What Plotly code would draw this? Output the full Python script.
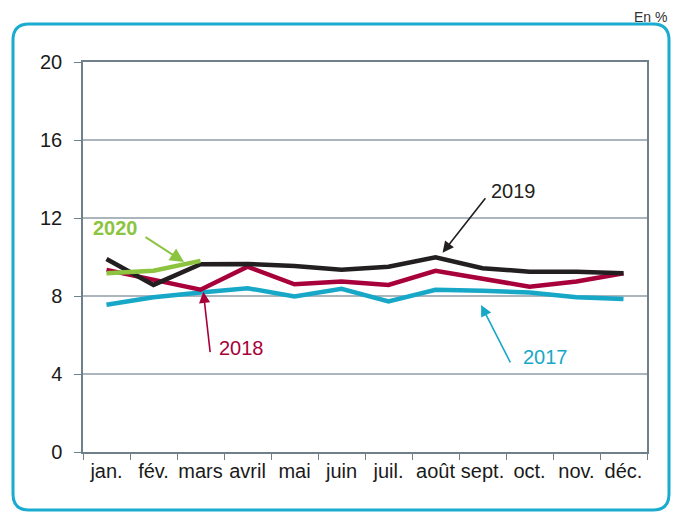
import plotly.graph_objects as go

months = ["jan.", "fév.", "mars", "avril", "mai", "juin", "juil.", "août", "sept.", "oct.", "nov.", "déc."]
y2017 = [7.55, 7.94, 8.18, 8.40, 7.98, 8.37, 7.72, 8.32, 8.27, 8.18, 7.94, 7.84]
y2018 = [9.34, 8.83, 8.32, 9.50, 8.60, 8.74, 8.57, 9.29, 8.91, 8.48, 8.74, 9.17]
y2019 = [9.90, 8.57, 9.63, 9.64, 9.54, 9.35, 9.50, 9.98, 9.42, 9.25, 9.25, 9.17]
y2020 = [9.17, 9.30, 9.80]
yticks = [0, 4, 8, 12, 16, 20]

c17 = "#17a8c8"
c18 = "#a8003a"
c19 = "#231f20"
c20 = "#8cc43f"
frame = "#19acd0"
axis_grey = "#6f808b"
grid_grey = "#aab5bd"

fig = go.Figure()
fig.add_trace(go.Scatter(x=months, y=y2017, mode="lines", line=dict(color=c17, width=4.5)))
fig.add_trace(go.Scatter(x=months, y=y2018, mode="lines", line=dict(color=c18, width=4.5)))
fig.add_trace(go.Scatter(x=months, y=y2019, mode="lines", line=dict(color=c19, width=4.5)))
fig.add_trace(go.Scatter(x=months[:3], y=y2020, mode="lines", line=dict(color=c20, width=4.5)))

font = "Liberation Sans, Arial, sans-serif"
OFF = 8  # page body margin
W, H = 683 - OFF, 513 - OFF
ml, mr, mt, mb = 83 - OFF, 36, 62 - OFF, 61
pw, ph = W - ml - mr, H - mt - mb

def px(x):
    return (x - OFF - ml) / pw

def py(y):
    return (H - mb - (y - OFF)) / ph

# rounded frame around the chart
x0, x1, y0, y1, r = 13, 669, 24, 510, 16
path = (f"M {px(x0 + r)},{py(y0)} L {px(x1 - r)},{py(y0)} "
        f"Q {px(x1)},{py(y0)} {px(x1)},{py(y0 + r)} L {px(x1)},{py(y1 - r)} "
        f"Q {px(x1)},{py(y1)} {px(x1 - r)},{py(y1)} L {px(x0 + r)},{py(y1)} "
        f"Q {px(x0)},{py(y1)} {px(x0)},{py(y1 - r)} L {px(x0)},{py(y0 + r)} "
        f"Q {px(x0)},{py(y0)} {px(x0 + r)},{py(y0)} Z")
fig.add_shape(type="path", path=path, xref="paper", yref="paper",
              line=dict(color=frame, width=3), layer="below")

labels = [
    ("2020", 0.2, 11.49, c20, True),
    ("2018", 2.88, 5.32, c18, False),
    ("2019", 8.66, 13.4, c19, False),
    ("2017", 9.35, 4.89, c17, False),
]
for text, x, y, col, bold in labels:
    fig.add_annotation(x=x, y=y, text=f"<b>{text}</b>" if bold else text, showarrow=False,
                       font=dict(size=20, color=col, family=font))

arrows = [
    (1.65, 9.74, -40, -26, c20, 2),
    (2.06, 8.22, 7, 62, c18, 1.6),
    (7.15, 10.22, 44, -56, c19, 1.6),
    (7.97, 7.54, 30, 59, c17, 1.6),
]
for x, y, ax, ay, col, w in arrows:
    fig.add_annotation(x=x, y=y, ax=ax, ay=ay, text="", showarrow=True,
                       arrowhead=2, arrowsize=1.4, arrowwidth=w, arrowcolor=col)

fig.add_annotation(x=px(650), y=1 + mt / ph, xref="paper", yref="paper",
                   xanchor="center", yanchor="top", borderpad=0,
                   text="En %", showarrow=False, font=dict(size=14, color="#333333", family=font))

fig.update_layout(
    width=W, height=H, autosize=False,
    margin=dict(l=ml, r=mr, t=mt, b=mb),
    plot_bgcolor="white", paper_bgcolor="white",
    showlegend=False,
    font=dict(family=font, size=20, color="#1a1a1a"),
)
fig.update_xaxes(type="category", range=[-0.5, 11.5], tickson="boundaries", ticks="outside",
                 ticklen=6, tickcolor=axis_grey, showline=True, linecolor=axis_grey, linewidth=1.5,
                 mirror=True, showgrid=False, tickangle=0, tickfont=dict(size=20))
fig.update_yaxes(range=[0, 20], tickvals=yticks, ticks="outside", ticklen=7, tickcolor=axis_grey,
                 showline=True, linecolor=axis_grey, linewidth=1.5, mirror=True,
                 showgrid=True, gridcolor=grid_grey, gridwidth=1.5, zeroline=False,
                 ticklabelstandoff=8, tickfont=dict(size=20))

fig.write_html("out.html")
